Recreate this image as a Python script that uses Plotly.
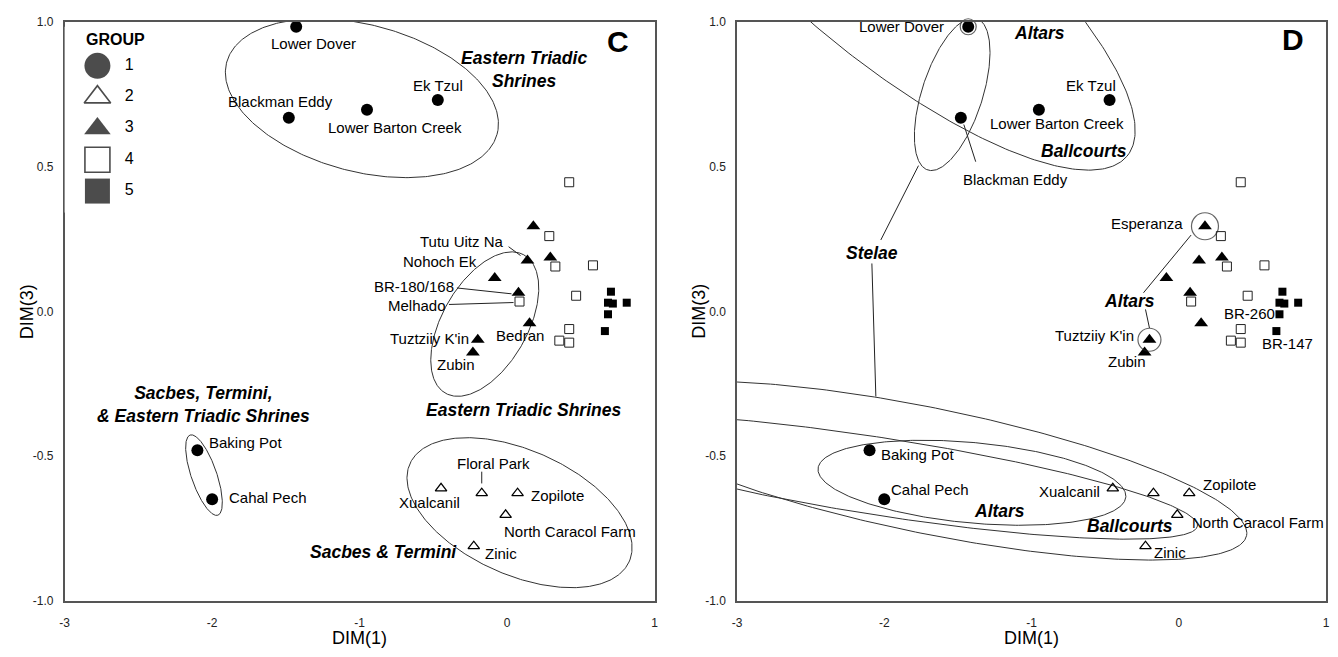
import numpy as np
import plotly.graph_objects as go

# ---------------- data ----------------
g1_names = ["Lower Dover", "Blackman Eddy", "Lower Barton Creek", "Ek Tzul", "Baking Pot", "Cahal Pech"]
g1_x = [-1.43, -1.48, -0.95, -0.47, -2.10, -2.00]
g1_y = [0.983, 0.669, 0.696, 0.730, -0.480, -0.649]

g2_names = ["Xualcanil", "Floral Park", "Zopilote", "North Caracol Farm", "Zinic"]
g2_x = [-0.448, -0.172, 0.071, -0.010, -0.226]
g2_y = [-0.611, -0.628, -0.628, -0.703, -0.811]

g3_names = ["Esperanza", "Tutu Uitz Na", "", "Nohoch Ek", "BR-180/168", "Bedran", "Tuztziiy K'in", "Zubin"]
g3_x = [0.178, 0.138, 0.293, -0.084, 0.077, 0.152, -0.199, -0.232]
g3_y = [0.294, 0.176, 0.186, 0.115, 0.064, -0.041, -0.098, -0.142]

g4_names = ["", "", "", "", "", "Melhado", "", "", ""]
g4_x = [0.421, 0.286, 0.327, 0.582, 0.468, 0.084, 0.421, 0.354, 0.421]
g4_y = [0.446, 0.260, 0.155, 0.159, 0.054, 0.034, -0.061, -0.101, -0.108]

g5_names = ["", "", "", "", "BR-260", "BR-147"]
g5_x = [0.704, 0.684, 0.717, 0.811, 0.684, 0.663]
g5_y = [0.068, 0.030, 0.027, 0.030, -0.010, -0.068]

group_labels = ["1", "2", "3", "4", "5"]
x_tick_vals = [-3, -2, -1, 0, 1]
x_tick_text = ["-3", "-2", "-1", "0", "1"]
y_tick_vals = [-1.0, -0.5, 0.0, 0.5, 1.0]
y_tick_text = ["-1.0", "-0.5", "0.0", "0.5", "1.0"]

# ---------------- geometry (page pixels) ----------------
PAGE_W, PAGE_H = 1338, 657
OFF = 8                      # default body margin of the html page
FIG_W, FIG_H = PAGE_W - 2 * OFF, PAGE_H - 2 * OFF
LEFT = (60, 654)
RIGHT = (737, 1330)
TOP, BOT = 15, 607
XR = [-3, 1]
YR = [-1, 1]
SX = (LEFT[1] - LEFT[0]) / (XR[1] - XR[0])
SY = (BOT - TOP) / (YR[1] - YR[0])
FONT = "Liberation Sans, Arial, sans-serif"


def pxx(px):
    return min(1.0, max(0.0, (px - OFF) / FIG_W))


def pxy(py):
    return min(1.0, max(0.0, 1 - (py - OFF) / FIG_H))


def px_to_data(px, py, panel):
    x0 = LEFT[0] if panel == "L" else RIGHT[0]
    return XR[0] + (px - x0) / SX, YR[1] - (py - TOP) / SY


# confidence ellipses: panel, centre (px), semi-axes (px), tilt (deg, clockwise on screen)
ellipses = [
    ("L", 359.3, 93.0, 141.0, 75.0, 15.2),
    ("L", 200.3, 478.4, 43.3, 12.8, 71.2),
    ("L", 483.0, 324.0, 81.0, 43.0, -61.0),
    ("L", 518.0, 516.8, 121.2, 63.5, 24.6),
    ("R", 891.8, -46.8, 310.7, 99.4, 39.9),
    ("R", 954.0, 89.0, 81.3, 30.6, -72.4),
    ("R", 973.9, 486.2, 155.9, 41.1, 5.4),
    ("R", 882.5, 480.0, 322.8, 39.6, 9.0),
    ("R", 929.9, 473.8, 327.8, 64.1, 11.7),
]


def ellipse_xy(panel, cxp, cyp, a, b, th):
    t = np.linspace(0, 2 * np.pi, 361)
    r = np.radians(th)
    u, v = a * np.cos(t), b * np.sin(t)
    px = cxp + u * np.cos(r) - v * np.sin(r)
    py = cyp + u * np.sin(r) + v * np.cos(r)
    x0 = LEFT[0] if panel == "L" else RIGHT[0]
    return XR[0] + (px - x0) / SX, YR[1] - (py - TOP) / SY


fig = go.Figure()
for e in ellipses:
    ex, ey = ellipse_xy(*e)
    ax = "" if e[0] == "L" else "2"
    fig.add_trace(go.Scatter(x=ex, y=ey, mode="lines", line=dict(color="#333", width=1),
                             xaxis="x" + ax, yaxis="y" + ax, hoverinfo="skip", showlegend=False))

styles = [
    (g1_x, g1_y, dict(symbol="circle", size=12, color="black")),
    (g2_x, g2_y, dict(symbol="triangle-up-open", size=10, color="black", line=dict(width=1.3, color="black"))),
    (g4_x, g4_y, dict(symbol="square-open", size=9, color="#222", line=dict(width=1, color="#222"))),
    (g5_x, g5_y, dict(symbol="square", size=8, color="black")),
    (g3_x, g3_y, dict(symbol="triangle-up", size=12, color="black")),
]
for ax in ["", "2"]:
    for xs, ys, mk in styles:
        fig.add_trace(go.Scatter(x=xs, y=ys, mode="markers", marker=mk, cliponaxis=False,
                                 xaxis="x" + ax, yaxis="y" + ax, hoverinfo="skip", showlegend=False))

pts = {}
for ns, xs, ys in [(g1_names, g1_x, g1_y), (g2_names, g2_x, g2_y), (g3_names, g3_x, g3_y),
                   (g4_names, g4_x, g4_y), (g5_names, g5_x, g5_y)]:
    for n, xv, yv in zip(ns, xs, ys):
        if n:
            pts[n] = (xv, yv)

ring_names = ["Lower Dover", "Esperanza", "Tuztziiy K'in"]
ring_sizes = [16, 27, 23]
fig.add_trace(go.Scatter(x=[pts[n][0] for n in ring_names], y=[pts[n][1] for n in ring_names],
                         mode="markers", marker=dict(symbol="circle-open", size=ring_sizes, color="#222",
                                                      line=dict(width=1.2, color="#222")),
                         cliponaxis=False, xaxis="x2", yaxis="y2", hoverinfo="skip", showlegend=False))

leg_rows = [1, 2, 3, 4, 5]
fig.add_trace(go.Scatter(x=[0] * 5, y=leg_rows, mode="markers",
                         marker=dict(symbol=["circle", "triangle-up-open", "triangle-up", "square-open", "square"],
                                     size=[26, 23, 23, 25, 25], color="black",
                                     line=dict(width=[0, 1.6, 0, 1.6, 0], color="black")),
                         cliponaxis=False, xaxis="x3", yaxis="y3", hoverinfo="skip", showlegend=False))
fig.add_trace(go.Scatter(x=[1] * 5, y=leg_rows, mode="text", text=group_labels,
                         textfont=dict(size=16, family=FONT, color="black"), textposition="middle center",
                         cliponaxis=False, xaxis="x3", yaxis="y3", hoverinfo="skip", showlegend=False))

annotations = []
shapes = []

left_labels = {
    "Lower Dover": (17, 17, "center"), "Blackman Eddy": (-8, -16, "center"),
    "Lower Barton Creek": (28, 18, "center"), "Ek Tzul": (0, -15, "center"),
    "Tutu Uitz Na": (-66, -19, "center"), "Nohoch Ek": (-55, -17, "center"),
    "BR-180/168": (-104, -6, "center"), "Melhado": (-103, 4, "center"),
    "Bedran": (-10, 12, "center"), "Tuztziiy K'in": (-48, -1, "center"), "Zubin": (-17, 12, "center"),
    "Baking Pot": (10, -8, "left"), "Cahal Pech": (15, -2, "left"), "Floral Park": (12, -30, "center"),
    "Xualcanil": (-12, 14, "center"), "Zopilote": (11, 2, "left"),
    "North Caracol Farm": (64, 17, "center"), "Zinic": (9, 7, "left"),
}
right_labels = {
    "Lower Dover": (-67, 0, "center"), "Blackman Eddy": (55, 62, "center"), "Ek Tzul": (-19, -15, "center"),
    "Lower Barton Creek": (18, 14, "center"), "Esperanza": (-58, -3, "center"),
    "Tuztziiy K'in": (-55, -4, "center"), "Zubin": (-18, 9, "center"), "BR-260": (-30, -1, "center"),
    "BR-147": (11, 12, "center"), "Baking Pot": (9, 4, "left"), "Cahal Pech": (5, -10, "left"),
    "Xualcanil": (-11, 3, "right"), "Zopilote": (12, -9, "left"), "North Caracol Farm": (13, 8, "left"),
    "Zinic": (7, 6, "left"),
}
for labels, ax in [(left_labels, ""), (right_labels, "2")]:
    for n, (dx, dy, anc) in labels.items():
        xv, yv = pts[n]
        annotations.append(dict(x=xv, y=yv, xref="x" + ax, yref="y" + ax, text=n, showarrow=False,
                                xanchor=anc, yanchor="middle", xshift=dx, yshift=-dy,
                                font=dict(size=15, family=FONT, color="black")))

leaders = [
    ("L", "Tutu Uitz Na", (-19, -14), (-7, -5)), ("L", "BR-180/168", (-62, -5), (-7, 1)),
    ("L", "Melhado", (-71, 3), (-6, 1)), ("L", "Floral Park", (0, -22), (0, -10)),
    ("R", "Blackman Eddy", (3, 7), (15, 45)), ("R", "Esperanza", (-62, 68), (-14, 9)),
    ("R", "Tuztziiy K'in", (-4, -31), (0, -12)),
]
for panel, n, (a0, b0), (a1, b1) in leaders:
    xv, yv = pts[n]
    ax = "" if panel == "L" else "2"
    shapes.append(dict(type="line", xref="x" + ax, yref="y" + ax,
                       x0=xv + a0 / SX, y0=yv - b0 / SY, x1=xv + a1 / SX, y1=yv - b1 / SY,
                       line=dict(color="#222", width=1)))

for (p0, p1) in [((882, 238), (920, 162)), ((873, 262), (877, 398))]:
    x0, y0 = px_to_data(*p0, "R")
    x1, y1 = px_to_data(*p1, "R")
    shapes.append(dict(type="line", xref="x2", yref="y2", x0=x0, y0=y0, x1=x1, y1=y1,
                       line=dict(color="#222", width=1)))

bold_labels = [
    ("L", "Eastern Triadic<br>Shrines", (523, 64)), ("L", "Eastern Triadic Shrines", (522, 412)),
    ("L", "Sacbes, Termini,<br>& Eastern Triadic Shrines", (200, 406)), ("L", "Sacbes & Termini", (381, 557)),
    ("R", "Altars", (1042, 26)), ("R", "Ballcourts", (1087, 147)), ("R", "Stelae", (873, 251)),
    ("R", "Altars", (1133, 300)), ("R", "Altars", (1002, 515)), ("R", "Ballcourts", (1133, 530)),
]
for panel, txt, (px, py) in bold_labels:
    xv, yv = px_to_data(px, py, panel)
    ax = "" if panel == "L" else "2"
    annotations.append(dict(x=xv, y=yv, xref="x" + ax, yref="y" + ax, text="<b><i>" + txt + "</i></b>",
                            showarrow=False, xanchor="center", yanchor="middle",
                            font=dict(size=17.5, family=FONT, color="black")))

for panel, txt, (px, py) in [("L", "C", (617, 35)), ("R", "D", (1298, 33))]:
    xv, yv = px_to_data(px, py, panel)
    ax = "" if panel == "L" else "2"
    annotations.append(dict(x=xv, y=yv, xref="x" + ax, yref="y" + ax, text="<b>" + txt + "</b>",
                            showarrow=False, xanchor="center", yanchor="middle",
                            font=dict(size=30, family=FONT, color="black")))

annotations.append(dict(x=pxx(111), y=pxy(33), xref="paper", yref="paper", text="<b>GROUP</b>",
                        showarrow=False, xanchor="center", yanchor="middle",
                        font=dict(size=16, family=FONT, color="black")))
for cx in [(LEFT[0] + LEFT[1]) / 2, (RIGHT[0] + RIGHT[1]) / 2]:
    annotations.append(dict(x=pxx(cx), y=pxy(645), xref="paper", yref="paper", text="DIM(1)",
                            showarrow=False, xanchor="center", yanchor="middle",
                            font=dict(size=18, family=FONT, color="black")))
for cx in [22, 699]:
    annotations.append(dict(x=pxx(cx), y=pxy(311), xref="paper", yref="paper", text="DIM(3)",
                            showarrow=False, xanchor="center", yanchor="middle", textangle=-90,
                            font=dict(size=18, family=FONT, color="black")))

axis_x = dict(range=XR, tickvals=x_tick_vals, ticktext=x_tick_text, showgrid=False, zeroline=False,
              showline=True, mirror=True, linecolor="#555", linewidth=1.5, ticks="outside", ticklen=10,
              tickcolor="rgba(0,0,0,0)", tickfont=dict(size=12, color="#222", family=FONT), fixedrange=True)
axis_y = dict(range=YR, tickvals=y_tick_vals, ticktext=y_tick_text, showgrid=False, zeroline=False,
              showline=True, mirror=True, linecolor="#555", linewidth=1.5, ticks="outside", ticklen=7,
              tickcolor="rgba(0,0,0,0)", tickfont=dict(size=12, color="#222", family=FONT), fixedrange=True)
ydom = [pxy(BOT), pxy(TOP)]
fig.update_layout(
    width=FIG_W, height=FIG_H, margin=dict(l=0, r=0, t=0, b=0),
    paper_bgcolor="white", plot_bgcolor="white", showlegend=False,
    font=dict(family=FONT, color="black"),
    xaxis=dict(axis_x, domain=[pxx(LEFT[0]), pxx(LEFT[1])], anchor="y"),
    yaxis=dict(axis_y, domain=ydom, anchor="x"),
    xaxis2=dict(axis_x, domain=[pxx(RIGHT[0]), pxx(RIGHT[1])], anchor="y2"),
    yaxis2=dict(axis_y, domain=ydom, anchor="x2"),
    xaxis3=dict(domain=[pxx(60), pxx(180)], range=[(60 - 93) / 32, (180 - 93) / 32], visible=False,
                anchor="y3", fixedrange=True),
    yaxis3=dict(domain=[pxy(210), pxy(20)], range=[(210 - 60) / 32 + 1, (20 - 60) / 32 + 1],
                visible=False, anchor="x3", fixedrange=True),
    annotations=annotations, shapes=shapes,
)
fig.write_html("out.html", config={"displayModeBar": False})
